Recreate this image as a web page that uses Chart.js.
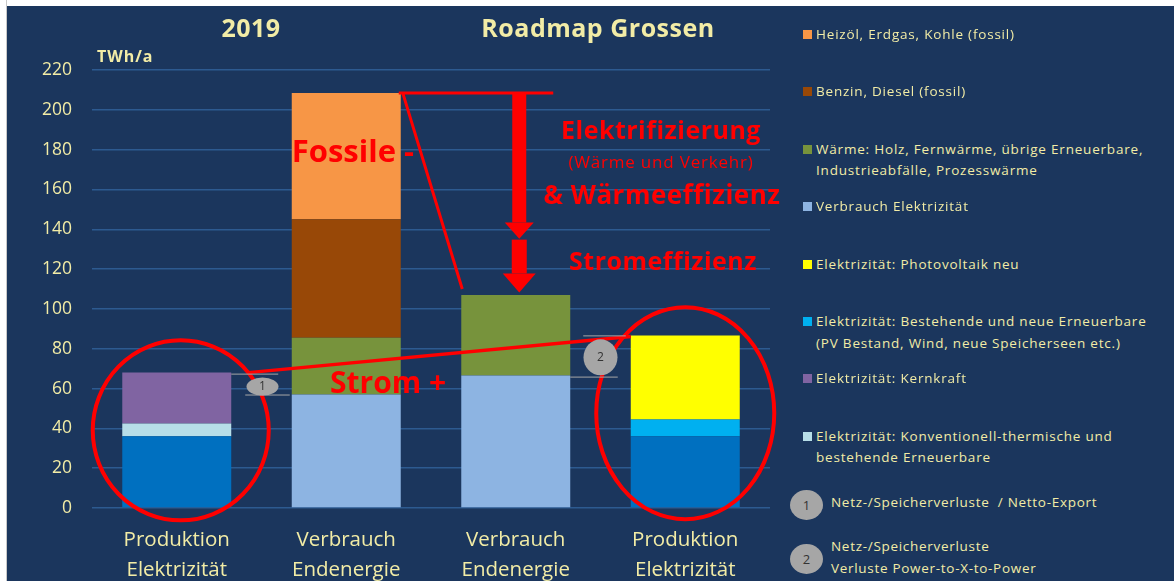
<!DOCTYPE html>
<html lang="de">
<head>
    <meta charset="UTF-8">
    <title>Roadmap Grossen</title>
    <script src="https://cdn.jsdelivr.net/npm/chart.js"></script>
    <style>
        body {
            margin: 0;
            width: 1174px;
            height: 581px;
            background-color: #1b365d;
            font-family: 'Open Sans', sans-serif;
            color: #f2eca6;
            position: relative;
            overflow: hidden;
        }
        .edge-top { position: absolute; left: 0; top: 0; width: 1174px; height: 6px; background: #fff; }
        .edge-left { position: absolute; left: 0; top: 0; width: 6px; height: 581px; background: #fff; border-right: 1px solid #c8c8c8; }
        #chart { position: absolute; left: 0; top: 0; }
        .title {
            position: absolute;
            top: 10px;
            font-weight: bold;
            font-size: 25px;
            letter-spacing: 0.5px;
            transform: translateX(-50%);
            white-space: nowrap;
        }
        .unit { position: absolute; left: 97px; top: 45px; font-weight: bold; font-size: 16px; letter-spacing: 1px; }
        #legend { position: absolute; left: 0; top: 0; }
        .item {
            position: absolute;
            left: 816px;
            font-size: 13.5px;
            letter-spacing: 0.8px;
            line-height: 21.5px;
            white-space: pre;
        }
        .item .sw {
            position: absolute;
            left: -13px;
            top: 6px;
            width: 9px;
            height: 9px;
        }
        .badge {
            position: absolute;
            width: 33px;
            height: 30px;
            border-radius: 50%;
            background: #a6a6a6;
            color: #333;
            font-size: 13px;
            text-align: center;
            line-height: 30px;
        }
        .note { position: absolute; left: 831px; font-size: 13.5px; letter-spacing: 0.7px; line-height: 22px; white-space: pre; }
    </style>
</head>
<body>
    <canvas id="chart" width="780" height="581"></canvas>
    <div class="edge-top"></div>
    <div class="edge-left"></div>
    <div class="title" style="left:251px">2019</div>
    <div class="title" style="left:598px">Roadmap Grossen</div>
    <div class="unit">TWh/a</div>
    <div id="legend"></div>
    <div class="badge" style="left:790px; top:490px">1</div>
    <div class="note" style="top:491px">Netz-/Speicherverluste  / Netto-Export</div>
    <div class="badge" style="left:790px; top:544px">2</div>
    <div class="note" style="top:535px">Netz-/Speicherverluste
Verluste Power-to-X-to-Power</div>

    <script>
        // categories (x axis)
        const categories = [
            ['Produktion', 'Elektrizität'],
            ['Verbrauch', 'Endenergie'],
            ['Verbrauch', 'Endenergie'],
            ['Produktion', 'Elektrizität']
        ];
        const yTicks = [0, 20, 40, 60, 80, 100, 120, 140, 160, 180, 200, 220];

        // series, bottom of the stack first (TWh/a)
        const wasserkraft   = [36,   0,    0,    36];
        const konventionell = [6.5,  0,    0,    0];
        const kernkraft     = [25.5, 0,    0,    0];
        const bestehendeEE  = [0,    0,    0,    8.5];
        const pvNeu         = [0,    0,    0,    42.2];
        const verbrauchElek = [0,    57,   66.5, 0];
        const waerme        = [0,    28.5, 40.5, 0];
        const benzinDiesel  = [0,    59.5, 0,    0];
        const heizoelGas    = [0,    63.5, 0,    0];

        const series = [
            { label: null, data: wasserkraft, color: '#0070c0' },
            { label: 'Elektrizität: Konventionell-thermische und\nbestehende Erneuerbare', data: konventionell, color: '#b7dee8' },
            { label: 'Elektrizität: Kernkraft', data: kernkraft, color: '#8064a2' },
            { label: 'Elektrizität: Bestehende und neue Erneuerbare\n(PV Bestand, Wind, neue Speicherseen etc.)', data: bestehendeEE, color: '#00b0f0' },
            { label: 'Elektrizität: Photovoltaik neu', data: pvNeu, color: '#ffff00' },
            { label: 'Verbrauch Elektrizität', data: verbrauchElek, color: '#8db4e2' },
            { label: 'Wärme: Holz, Fernwärme, übrige Erneuerbare,\nIndustrieabfälle, Prozesswärme', data: waerme, color: '#77933c' },
            { label: 'Benzin, Diesel (fossil)', data: benzinDiesel, color: '#984807' },
            { label: 'Heizöl, Erdgas, Kohle (fossil)', data: heizoelGas, color: '#f79646' }
        ];

        const totals = categories.map((c, i) => series.reduce((s, d) => s + d.data[i], 0));

        const textColor = '#f2eca6';
        const red = '#ff0000';

        // legend, in reverse stack order like the original
        const legend = document.getElementById('legend');
        series.filter(s => s.label).reverse().forEach((s, i) => {
            const div = document.createElement('div');
            div.className = 'item';
            div.style.top = (24 + i * 57.4) + 'px';
            div.innerHTML = `<span class="sw" style="background:${s.color}"></span>${s.label}`;
            legend.appendChild(div);
        });

        // red arrows, lines, circles and texts drawn on top of the bars
        const annotations = {
            id: 'annotations',
            afterDatasetsDraw(chart) {
                const { ctx } = chart;
                const y = chart.scales.y;
                const bars = chart.getDatasetMeta(0).data.map(b => ({
                    cx: b.x, left: b.x - b.width / 2, right: b.x + b.width / 2
                }));
                const top = i => y.getPixelForValue(totals[i]);
                const py = v => y.getPixelForValue(v);

                ctx.save();
                ctx.strokeStyle = red;
                ctx.fillStyle = red;
                ctx.lineWidth = 3;

                // fossil drop: horizontal line + slanted line
                ctx.beginPath();
                ctx.moveTo(bars[1].right - 2, top(1));
                ctx.lineTo(bars[2].right - 17, top(1));
                ctx.moveTo(bars[1].right + 2, top(1));
                ctx.lineTo(bars[2].left + 1, top(2) - 6);
                ctx.stroke();

                // two down arrows
                const ax = bars[2].cx + 3.5;
                const arrow = (yTop, yHead, yTip, shaftW, headW) => {
                    ctx.fillRect(ax - shaftW / 2, yTop, shaftW, yHead - yTop);
                    ctx.beginPath();
                    ctx.moveTo(ax - headW / 2, yHead);
                    ctx.lineTo(ax + headW / 2, yHead);
                    ctx.lineTo(ax, yTip);
                    ctx.closePath();
                    ctx.fill();
                };
                arrow(top(1), py(143.4), py(135.3), 14, 29);
                arrow(py(134.8), py(117.8), py(108.3), 15, 33);

                // electricity line
                ctx.lineWidth = 3.5;
                ctx.beginPath();
                ctx.moveTo(bars[0].right + 17, top(0));
                ctx.lineTo(bars[3].left, top(3) + 1);
                ctx.stroke();

                // circles round the production bars
                ctx.lineWidth = 4;
                ctx.beginPath();
                ctx.ellipse(bars[0].cx + 4, py(39), 88, 90, 0, 0, Math.PI * 2);
                ctx.stroke();
                ctx.beginPath();
                ctx.ellipse(bars[3].cx, py(47.6), 89, 106, 0, 0, Math.PI * 2);
                ctx.stroke();

                // loss markers 1 and 2
                ctx.strokeStyle = '#a6a6a6';
                ctx.lineWidth = 1;
                ctx.beginPath();
                ctx.moveTo(bars[0].right, top(0) + 1.5);
                ctx.lineTo(bars[0].right + 47, top(0) + 1.5);
                ctx.moveTo(bars[0].right + 14, py(verbrauchElek[1]) + 0.5);
                ctx.lineTo(bars[1].left - 2, py(verbrauchElek[1]) + 0.5);
                ctx.moveTo(bars[2].right + 13, top(3) + 0.5);
                ctx.lineTo(bars[3].left - 5, top(3) + 0.5);
                ctx.moveTo(bars[2].right, py(verbrauchElek[2]) + 1.5);
                ctx.lineTo(bars[3].left - 13, py(verbrauchElek[2]) + 1.5);
                ctx.stroke();

                const mid01 = (bars[0].right + bars[1].left) / 2;
                const mid23 = (bars[2].right + bars[3].left) / 2;
                ctx.fillStyle = '#a6a6a6';
                ctx.beginPath();
                ctx.ellipse(mid01 + 1, py(61), 16, 9, 0, 0, Math.PI * 2);
                ctx.fill();
                ctx.beginPath();
                ctx.ellipse(mid23, py(75.7), 17, 18, 0, 0, Math.PI * 2);
                ctx.fill();
                ctx.fillStyle = '#333';
                ctx.font = '12px "Open Sans"';
                ctx.textAlign = 'center';
                ctx.textBaseline = 'middle';
                ctx.fillText('1', mid01 + 1, py(61));
                ctx.fillText('2', mid23, py(75.7));

                // red texts
                ctx.fillStyle = red;
                ctx.textAlign = 'left';
                ctx.font = 'bold 31px "Open Sans"';
                ctx.fillText('Fossile -', bars[1].left, py(178));
                ctx.font = 'bold 30px "Open Sans"';
                ctx.fillText('Strom +', 330, 384);
                ctx.textAlign = 'center';
                ctx.font = 'bold 25px "Open Sans"';
                ctx.letterSpacing = '0.5px';
                ctx.fillText('Elektrifizierung', 661, 132);
                ctx.font = 'bold 26px "Open Sans"';
                ctx.fillText('& Wärmeeffizienz', 662, 197);
                ctx.font = 'bold 25px "Open Sans"';
                ctx.fillText('Stromeffizienz', 663, 263);
                ctx.font = '17px "Open Sans"';
                ctx.letterSpacing = '0.8px';
                ctx.fillText('(Wärme und Verkehr)', 661, 163);
                ctx.restore();
            }
        };

        new Chart(document.getElementById('chart'), {
            type: 'bar',
            data: {
                labels: categories,
                datasets: series.map(s => ({
                    label: s.label || 'Wasserkraft',
                    data: s.data,
                    backgroundColor: s.color,
                    borderWidth: 0,
                    barPercentage: 0.643,
                    categoryPercentage: 1
                }))
            },
            options: {
                responsive: false,
                animation: false,
                layout: { padding: { top: 70, right: 10, bottom: 0, left: 0 } },
                plugins: {
                    legend: { display: false },
                    tooltip: { enabled: false }
                },
                scales: {
                    x: {
                        stacked: true,
                        grid: { display: false, drawTicks: false },
                        border: { display: false },
                        afterFit: scale => { scale.height = 73; },
                        ticks: {
                            color: textColor,
                            padding: 18,
                            font: { family: 'Open Sans', size: 20.5, lineHeight: 1.42 }
                        }
                    },
                    y: {
                        stacked: true,
                        min: 0,
                        max: 220,
                        afterFit: scale => { scale.width = 92; },
                        afterBuildTicks: scale => { scale.ticks = yTicks.map(v => ({ value: v })); },
                        grid: { color: '#2d5a90', lineWidth: 1.5, drawTicks: false },
                        border: { display: false },
                        ticks: {
                            color: textColor,
                            padding: 20,
                            font: { family: 'Open Sans', size: 17.5 }
                        }
                    }
                }
            },
            plugins: [annotations]
        });
    </script>
</body>
</html>
